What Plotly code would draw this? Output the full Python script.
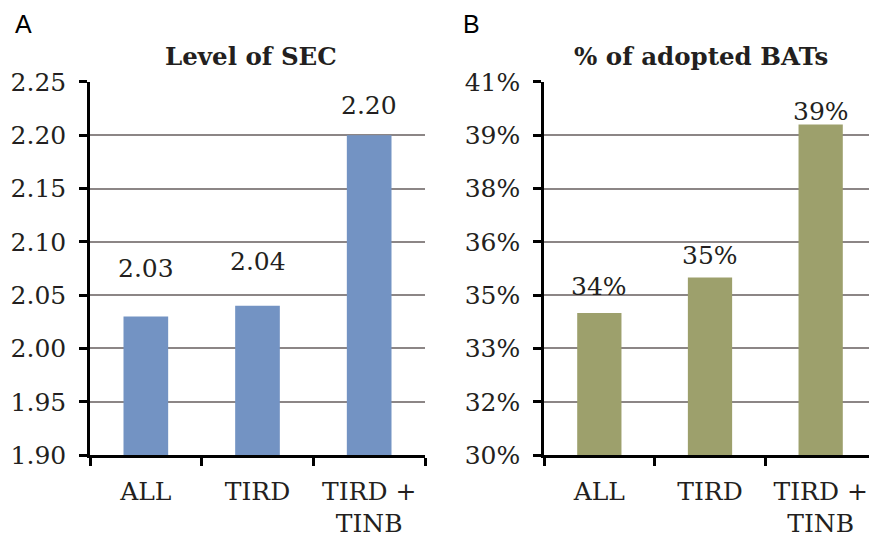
import plotly.graph_objects as go

categories = ["ALL", "TIRD", "TIRD + TINB"]
category_ticktext = ["ALL", "TIRD", "TIRD +<br>TINB"]
sec_values = [2.03, 2.04, 2.20]
sec_labels = ["2.03", "2.04", "2.20"]
bat_values = [34.0, 35.0, 39.3]
bat_labels = ["34%", "35%", "39%"]
sec_ticks = [1.90, 1.95, 2.00, 2.05, 2.10, 2.15, 2.20, 2.25]
bat_ticks = [30, 31.5, 33, 34.5, 36, 37.5, 39, 40.5]
bat_ticktext = ["30%", "32%", "33%", "35%", "36%", "38%", "39%", "41%"]

W, H = 869, 541
# the page is photographed with the figure occupying rows 14..527
TOP, VIS = 14, 513
SERIF = "DejaVu Serif"
TXT = "#231f20"
BLUE = "#7393c3"
GREEN = "#9da06c"
GRID = "#8c8686"
FS = 25

sec_label_shift = [48, 44, 30]
bat_label_shift = [26, 22, 13]


def fy(px):
    return 1 - (px - TOP) / VIS


fig = go.Figure()
fig.add_trace(go.Bar(x=categories, y=sec_values, marker=dict(color=BLUE, line=dict(width=0)),
                     xaxis="x", yaxis="y", width=0.4, hoverinfo="x+y"))
fig.add_trace(go.Bar(x=categories, y=bat_values, marker=dict(color=GREEN, line=dict(width=0)),
                     xaxis="x2", yaxis="y2", width=0.4, hoverinfo="x+y"))

ydom = [fy(456), fy(82)]
xA = [90 / W, 425 / W]
xB = [544 / W, 1.0]
px_per_cat_B = (876 - 544) / 3
xB_max = -0.5 + (W - 544) / px_per_cat_B

common_x = dict(type="category", showgrid=False, showline=True, linecolor="black", linewidth=2.5,
                ticks="outside", ticklen=8, tickwidth=2.5, tickcolor="black", tickson="boundaries",
                tickfont=dict(family=SERIF, size=FS, color=TXT), ticklabelstandoff=12,
                tickmode="array", tickvals=categories, ticktext=category_ticktext,
                zeroline=False, fixedrange=True)
common_y = dict(showgrid=True, gridcolor=GRID, gridwidth=2, showline=True, linecolor="black",
                linewidth=2.5, ticks="outside", ticklen=8, tickwidth=2.5, tickcolor="black",
                tickfont=dict(family=SERIF, size=FS, color=TXT), ticklabelstandoff=8,
                zeroline=False, fixedrange=True)

fig.update_layout(
    width=W, height=H, margin=dict(l=0, r=0, t=0, b=0),
    paper_bgcolor="white", plot_bgcolor="white", showlegend=False, bargap=0.6,
    xaxis=dict(domain=xA, anchor="y", range=[-0.5, 2.5], **common_x),
    yaxis=dict(domain=ydom, anchor="x", range=[1.90, 2.25], tickmode="array",
               tickvals=sec_ticks, ticktext=[f"{v:.2f}" for v in sec_ticks], **common_y),
    xaxis2=dict(domain=xB, anchor="y2", range=[-0.5, xB_max], **common_x),
    yaxis2=dict(domain=ydom, anchor="x2", range=[30, 40.5], tickmode="array",
                tickvals=bat_ticks, ticktext=bat_ticktext, **common_y),
)

ann = []
for c, v, t, s in zip(categories, sec_values, sec_labels, sec_label_shift):
    ann.append(dict(x=c, y=v, xref="x", yref="y", text=t, showarrow=False, yanchor="middle",
                    yshift=s, font=dict(family=SERIF, size=FS, color=TXT)))
for c, v, t, s in zip(categories, bat_values, bat_labels, bat_label_shift):
    ann.append(dict(x=c, y=v, xref="x2", yref="y2", text=t, showarrow=False, yanchor="middle",
                    yshift=s, font=dict(family=SERIF, size=FS, color=TXT)))
ann.append(dict(x=251 / W, y=fy(57), xref="paper", yref="paper", text="<b>Level of SEC</b>",
                showarrow=False, xanchor="center", yanchor="middle",
                font=dict(family=SERIF, size=24.5, color=TXT)))
ann.append(dict(x=701 / W, y=fy(57), xref="paper", yref="paper", text="<b>% of adopted BATs</b>",
                showarrow=False, xanchor="center", yanchor="middle",
                font=dict(family=SERIF, size=24.5, color=TXT)))
ann.append(dict(x=23 / W, y=fy(24), xref="paper", yref="paper", text="A", showarrow=False,
                xanchor="center", yanchor="middle", font=dict(family="Liberation Sans", size=25, color="black")))
ann.append(dict(x=471 / W, y=fy(24), xref="paper", yref="paper", text="B", showarrow=False,
                xanchor="center", yanchor="middle", font=dict(family="Liberation Sans", size=25, color="black")))
fig.update_layout(annotations=ann)

fig.write_html("out.html")
